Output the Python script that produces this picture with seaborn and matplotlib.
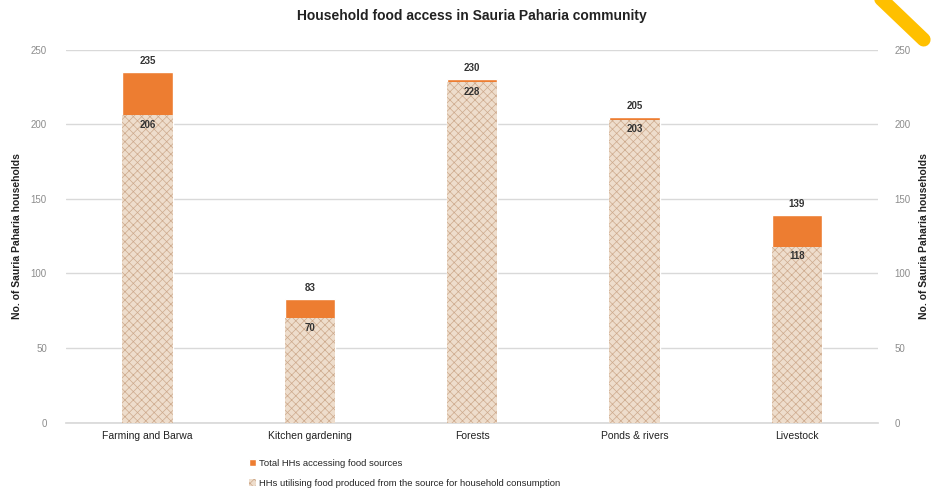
import matplotlib.pyplot as plt
import matplotlib.lines as mlines
import matplotlib.patches as mpatches
import seaborn as sns

categories = ['Farming and Barwa', 'Kitchen gardening', 'Forests', 'Ponds & rivers', 'Livestock']
total_hhs = [235, 83, 230, 205, 139]
utilising_hhs = [206, 70, 228, 203, 118]
y_ticks = [0, 50, 100, 150, 200, 250]

ORANGE = '#ED7D31'
TAN = '#EEDDCC'
HATCH = '#CDA98C'
GRID = '#D9D9D9'
TICK = '#8C8C8C'

sns.set_theme(style='white')
plt.rcParams['font.family'] = ['Liberation Sans', 'DejaVu Sans']
plt.rcParams['hatch.linewidth'] = 0.5

fig, ax = plt.subplots(figsize=(9.33, 4.95), dpi=100)
fig.subplots_adjust(left=0.071, right=0.941, top=0.9, bottom=0.146)

# back bar: total households accessing the source
sns.barplot(x=categories, y=total_hhs, color=ORANGE, width=0.31,
            saturation=1, ax=ax, zorder=2)
n_back = len(ax.patches)
# front bar: households using food produced from the source
sns.barplot(x=categories, y=utilising_hhs, color=TAN, width=0.31,
            saturation=1, ax=ax, zorder=3)
for p in ax.patches[n_back:]:
    p.set_hatch('xxxx')
    p.set_edgecolor(HATCH)
    p.set_linewidth(0)

for i, (t, u) in enumerate(zip(total_hhs, utilising_hhs)):
    ax.text(i, t + 4, str(t), ha='center', va='bottom', fontsize=7,
            fontweight='bold', color='#333333', zorder=5)
    ax.text(i, u - 3, str(u), ha='center', va='top', fontsize=7,
            fontweight='bold', color='#333333', zorder=5)

ax.set_ylim(0, 250)
ax.set_yticks(y_ticks)
ax.set_xlim(-0.5, 4.5)
ax.yaxis.grid(True, color=GRID, linewidth=1, zorder=0)
ax.set_axisbelow(True)
for s in ['top', 'right', 'left']:
    ax.spines[s].set_visible(False)
ax.spines['bottom'].set_color(GRID)
ax.tick_params(axis='y', labelsize=7, labelcolor=TICK, length=0, pad=14)
ax.tick_params(axis='x', labelsize=7.5, labelcolor='#222222', length=0, pad=6)
ax.set_ylabel('No. of Sauria Paharia households', fontsize=7.5,
              fontweight='bold', color='#222222', labelpad=6)
ax.set_title('Household food access in Sauria Paharia community',
             fontsize=10, fontweight='bold', color='#222222', pad=21)

ax2 = ax.twinx()
ax2.set_ylim(0, 250)
ax2.set_yticks(y_ticks)
for s in ax2.spines.values():
    s.set_visible(False)
ax2.tick_params(axis='y', labelsize=7, labelcolor=TICK, length=0, pad=12)
ax2.set_ylabel('No. of Sauria Paharia households', fontsize=7.5,
               fontweight='bold', color='#222222', rotation=90, labelpad=6)

handles = [
    mpatches.Patch(facecolor=ORANGE, label='Total HHs accessing food sources'),
    mpatches.Patch(facecolor=TAN, edgecolor=HATCH, hatch='xxxx', linewidth=0,
                   label='HHs utilising food produced from the source for household consumption'),
]
fig.legend(handles=handles, loc='lower left', bbox_to_anchor=(0.258, -0.003),
           ncol=1, frameon=False, fontsize=6.8, handlelength=0.7, handleheight=0.7,
           handletextpad=0.3, labelspacing=1.2)

# yellow corner swoosh
fig.add_artist(mlines.Line2D([0.94, 0.99], [1.01, 0.92], transform=fig.transFigure,
                             color='#FFC000', linewidth=10, solid_capstyle='round'))

fig.savefig('out.png', dpi=100)
